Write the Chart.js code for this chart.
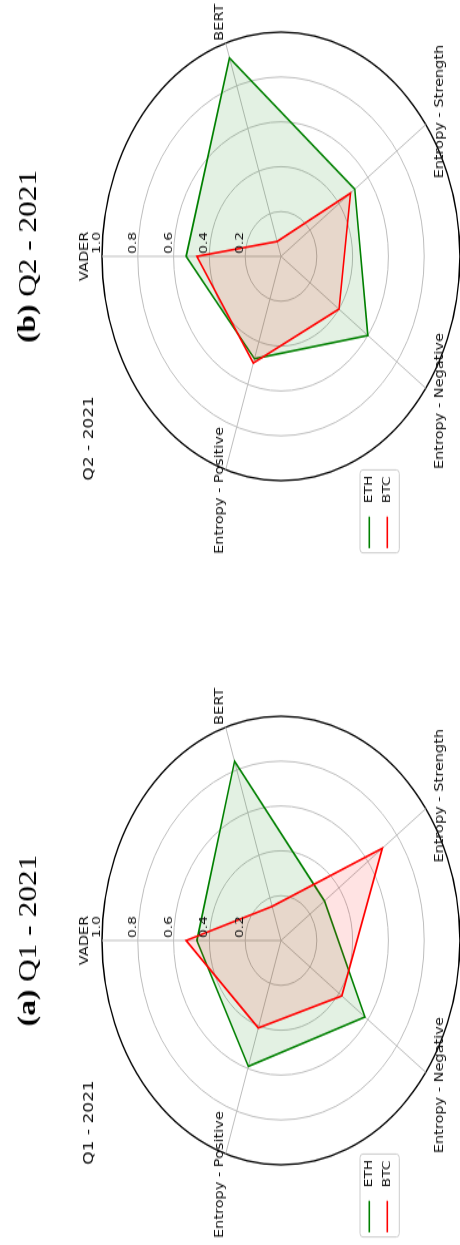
<!DOCTYPE html>
<html>
<head>
<meta charset="utf-8">
<script src="https://cdn.jsdelivr.net/npm/chart.js@4"></script>
<style>
  html, body { margin: 0; padding: 0; background: #fff; overflow: hidden; width: 460px; height: 1245px; }
  /* the figure is laid out landscape, then turned onto the portrait page */
  #sheet { position: absolute; left: 0; top: 0; width: 994px; height: 460px;
           transform-origin: 0 0; transform: translate(0, 1245px) rotate(-90deg) scale(1.253, 1); }
  #sheet canvas { position: absolute; top: 0; }
</style>
</head>
<body>
<div id="sheet">
  <canvas id="q1" width="500" height="464" style="left:-7px"></canvas>
  <canvas id="q2" width="500" height="464" style="left:539px"></canvas>
</div>
<script>
const categories = ['VADER', 'BERT', 'Entropy - Strength', 'Entropy - Negative', 'Entropy - Positive'];
const coins = ['ETH', 'BTC'];

// Q1 2021
const q1Eth = [0.47, 0.84, 0.30, 0.58, 0.59];
const q1Btc = [0.53, 0.16, 0.70, 0.42, 0.41];
// Q2 2021
const q2Eth = [0.53, 0.93, 0.51, 0.60, 0.48];
const q2Btc = [0.47, 0.07, 0.48, 0.40, 0.50];

const GRID = '#bdbdbd';
const TEXT = '#111';

// labels, ticks, legend box and titles in the matplotlib polar style
const decor = {
  id: 'decor',
  afterDraw(chart, args, opts) {
    const ctx = chart.ctx;
    const s = chart.scales.r;
    const cx = s.xCenter, cy = s.yCenter, R = s.drawingArea;
    ctx.save();
    ctx.fillStyle = TEXT;

    // radial tick labels beside the first spoke
    ctx.font = '11px "DejaVu Sans"';
    ctx.textAlign = 'left';
    ctx.textBaseline = 'alphabetic';
    s.ticks.forEach(t => {
      if (t.value === 0) return;
      const d = s.getDistanceFromCenterForValue(t.value);
      ctx.fillText(t.value.toFixed(1), cx + 2, cy - d - 2);
    });

    // category names outside the rim
    ctx.font = '11.6px "DejaVu Sans"';
    ctx.textAlign = 'center';
    ctx.textBaseline = 'middle';
    chart.data.labels.forEach((name, i) => {
      const p = s.getPointPosition(i, R + 17.5);
      ctx.fillText(name, p.x, p.y);
    });

    // small title, left aligned on the axes box
    ctx.font = '13.6px "DejaVu Sans"';
    ctx.textAlign = 'left';
    ctx.textBaseline = 'alphabetic';
    ctx.fillText(opts.title, cx - R, cy - 188);

    // legend
    const lx = cx - 236.6, ly = cy + 79, lw = 66.2, lh = 39.3;
    ctx.beginPath();
    ctx.roundRect(lx, ly, lw, lh, 3);
    ctx.fillStyle = 'rgba(255,255,255,0.8)';
    ctx.fill();
    ctx.strokeStyle = '#cccccc';
    ctx.lineWidth = 1;
    ctx.stroke();
    ctx.font = '11px "DejaVu Sans"';
    ctx.textBaseline = 'middle';
    chart.data.datasets.forEach((ds, i) => {
      const y = cy + 88.3 + i * 18;
      ctx.beginPath();
      ctx.moveTo(cx - 232.9, y);
      ctx.lineTo(cx - 207.7, y);
      ctx.strokeStyle = ds.borderColor;
      ctx.lineWidth = 1.6;
      ctx.stroke();
      ctx.fillStyle = TEXT;
      ctx.fillText(ds.label, cx - 196.9, y);
    });

    // figure caption, bold tag then plain text
    ctx.font = 'bold 25px "Liberation Serif"';
    const wTag = ctx.measureText(opts.tag).width;
    ctx.font = '25px "Liberation Serif"';
    const rest = ' ' + opts.title;
    const wRest = ctx.measureText(rest).width;
    const x0 = cx - (wTag + wRest) / 2;
    ctx.fillStyle = '#000';
    ctx.font = 'bold 25px "Liberation Serif"';
    ctx.fillText(opts.tag, x0, cy - 252);
    ctx.font = '25px "Liberation Serif"';
    ctx.fillText(rest, x0 + wTag, cy - 252);

    ctx.restore();
  }
};

function radar(id, eth, btc, tag, title) {
  return new Chart(document.getElementById(id), {
    type: 'radar',
    data: {
      labels: categories,
      datasets: [{
        label: coins[0],
        data: eth,
        borderColor: 'green',
        backgroundColor: 'rgba(0,128,0,0.11)',
        fill: true,
        order: 2
      }, {
        label: coins[1],
        data: btc,
        borderColor: 'red',
        backgroundColor: 'rgba(255,0,0,0.11)',
        fill: true,
        order: 1
      }]
    },
    options: {
      responsive: false,
      animation: false,
      events: [],
      layout: { padding: { left: 70.5, right: 70.5, top: 102, bottom: 3 } },
      elements: {
        line: { tension: 0, borderWidth: 1.6 },
        point: { radius: 0, hoverRadius: 0 }
      },
      scales: {
        r: {
          min: 0,
          max: 1,
          startAngle: 0,
          ticks: { stepSize: 0.2, display: false },
          pointLabels: { display: false },
          grid: {
            circular: true,
            color: c => (c.tick && c.tick.value >= 1 ? '#000' : GRID),
            lineWidth: c => (c.tick && c.tick.value >= 1 ? 1.3 : 1)
          },
          angleLines: { color: GRID, lineWidth: 1 }
        }
      },
      plugins: {
        legend: { display: false },
        tooltip: { enabled: false },
        decor: { tag: tag, title: title }
      }
    },
    plugins: [decor]
  });
}

radar('q1', q1Eth, q1Btc, '(a)', 'Q1 - 2021');
radar('q2', q2Eth, q2Btc, '(b)', 'Q2 - 2021');
</script>
</body>
</html>
